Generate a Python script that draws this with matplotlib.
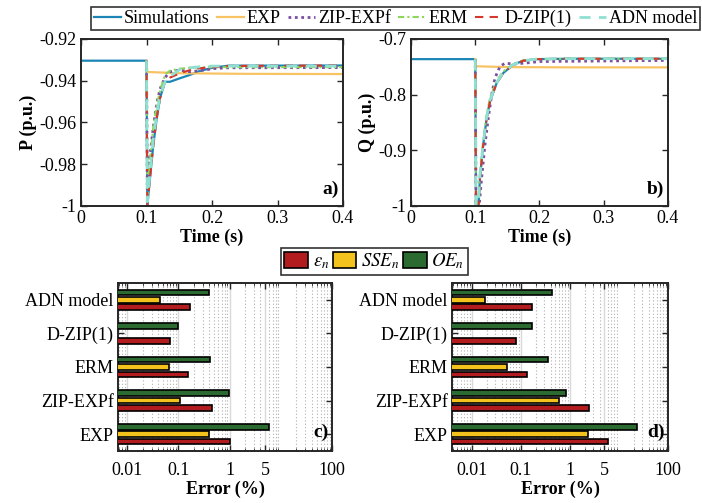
import numpy as np
import matplotlib
matplotlib.use("Agg")
import matplotlib.pyplot as plt
import matplotlib.patches as mpatches
from matplotlib.ticker import LogLocator, NullFormatter

plt.rcParams["font.family"] = ["Liberation Serif", "DejaVu Serif"]
plt.rcParams["mathtext.fontset"] = "stix"
plt.rcParams["font.size"] = 13

# ---------------------------------------------------------------------------
# Time responses; models start at the disturbance
# ---------------------------------------------------------------------------
t_P_sim = [0, 0.1, 0.1012, 0.1053, 0.1104, 0.1156, 0.1206, 0.1282, 0.1359, 0.1511,
           0.1664, 0.1817, 0.202, 0.225, 0.4]
P_sim = [-0.9304, -0.9304, -1.0, -0.9867, -0.9708, -0.958, -0.9484, -0.9405, -0.9405,
         -0.9388, -0.9372, -0.9353, -0.9337, -0.9328, -0.9327]

t_P = [0.1, 0.1012, 0.1053, 0.1104, 0.1156, 0.1206, 0.1282, 0.1359, 0.1511,
       0.1664, 0.1817, 0.202, 0.225, 0.4]
P_zip = [-0.9304, -0.992, -0.976, -0.962, -0.951, -0.944, -0.9385, -0.9357,
         -0.9349, -0.9357, -0.9352, -0.9342, -0.9338, -0.9337]
P_erm = [-0.9304, -0.996, -0.978, -0.962, -0.952, -0.945, -0.937, -0.9352,
         -0.9342, -0.9338, -0.9336, -0.9335, -0.9335, -0.9335]
P_dzip = [-0.9304, -1.0, -0.9867, -0.9708, -0.958, -0.9484, -0.9405, -0.9385,
          -0.9364, -0.9349, -0.934, -0.9335, -0.9329, -0.9327]
P_adn = [-0.9304, -0.998, -0.984, -0.968, -0.956, -0.9475, -0.9405, -0.938,
         -0.9345, -0.9338, -0.9333, -0.933, -0.933, -0.933]
t_P_exp = [0.1, 0.1012, 0.15, 0.25, 0.4]
P_exp = [-0.9304, -0.9358, -0.9364, -0.9367, -0.9368]

t_Q_sim = [0, 0.1, 0.1012, 0.105, 0.1074, 0.1125, 0.1178, 0.123, 0.1334, 0.1437, 0.159,
           0.1748, 0.1956, 0.25, 0.4]
Q_sim = [-0.7362, -0.7362, -1.0, -1.0, -0.949, -0.889, -0.842, -0.812, -0.779, -0.761,
         -0.7464, -0.739, -0.7362, -0.7355, -0.7355]

t_Q = [0.1, 0.1012, 0.105, 0.1074, 0.1125, 0.1178, 0.123, 0.1334, 0.1437, 0.159,
       0.1748, 0.1956, 0.25, 0.4]
Q_erm = [-0.7362, -1.0, -0.985, -0.94, -0.882, -0.836, -0.806, -0.775, -0.758,
         -0.745, -0.7385, -0.736, -0.7355, -0.7355]
Q_dzip = [-0.7362, -1.0, -1.0, -0.949, -0.889, -0.842, -0.812, -0.779, -0.761,
          -0.7464, -0.739, -0.7362, -0.7355, -0.7355]
Q_adn = [-0.7362, -1.0, -0.99, -0.945, -0.886, -0.84, -0.81, -0.778, -0.76,
         -0.746, -0.739, -0.7362, -0.7355, -0.7355]
t_Q_zip = [0.1, 0.1012, 0.106, 0.110, 0.1152, 0.1203, 0.1256, 0.1307, 0.1385,
           0.1463, 0.159, 0.180, 0.2, 0.4]
Q_zip = [-0.7362, -1.0, -1.0, -0.949, -0.889, -0.842, -0.800, -0.770, -0.7494,
         -0.7435, -0.745, -0.743, -0.7405, -0.7385]
t_Q_exp = [0.1, 0.1012, 0.15, 0.25, 0.4]
Q_exp = [-0.7362, -0.749, -0.7505, -0.751, -0.751]

# ---------------------------------------------------------------------------
# Error indices (%)
# ---------------------------------------------------------------------------
models = ["EXP", "ZIP-EXPf", "ERM", "D-ZIP(1)", "ADN model"]
eps_P = [1.0, 0.45, 0.154, 0.067, 0.17]
sse_P = [0.39, 0.108, 0.066, np.nan, 0.043]
oe_P = [6.0, 0.97, 0.42, 0.1, 0.4]
eps_Q = [6.0, 2.4, 0.13, 0.078, 0.17]
sse_Q = [2.37, 0.6, 0.052, np.nan, 0.018]
oe_Q = [23.6, 0.84, 0.35, 0.17, 0.42]

C_SIM = "#1b86b5"
C_EXP = "#f8c463"
C_ZIP = "#7b4ea0"
C_ERM = "#8cd65a"
C_DZIP = "#d4382a"
C_ADN = "#8ee0d0"
C_EPS = "#b31c1f"
C_SSE = "#f3c21c"
C_OE = "#2b6a30"
EDGE = "#262626"

fig = plt.figure(figsize=(7.02, 5.03), dpi=100)


def style_box(ax):
    for s in ax.spines.values():
        s.set_linewidth(1.4)
        s.set_color(EDGE)
    ax.tick_params(direction="in", top=True, right=True, length=4, width=1.0,
                   color=EDGE, labelsize=13, pad=3)


def time_panel(ax, t_sim, sim, t, erm, dzip, adn, t_exp, y_exp, t_zip, y_zip,
               ylim, yticks, yticklabels, ylabel, tag):
    ax.plot(t_sim, sim, color=C_SIM, lw=1.6, label="Simulations")
    ax.plot(t_exp, y_exp, color=C_EXP, lw=1.6, label="EXP")
    ax.plot(t_zip, y_zip, color=C_ZIP, lw=2.0, ls=(0, (1, 1.3)), label="ZIP-EXPf")
    ax.plot(t, erm, color=C_ERM, lw=1.5, ls=(0, (3, 1.5, 1, 1.5)), label="ERM")
    ax.plot(t, dzip, color=C_DZIP, lw=1.5, ls=(0, (4, 3)), label="D-ZIP(1)")
    ax.plot(t, adn, color=C_ADN, lw=2.0, ls=(0, (4, 3)), label="ADN model")
    ax.set_xlim(0, 0.4)
    ax.set_ylim(*ylim)
    ax.set_xticks([0, 0.1, 0.2, 0.3, 0.4])
    ax.set_xticklabels(["0", "0.1", "0.2", "0.3", "0.4"])
    ax.set_yticks(yticks)
    ax.set_yticklabels(yticklabels)
    ax.set_xlabel("Time (s)", fontweight="bold", labelpad=1)
    ax.set_ylabel(ylabel, fontweight="bold", labelpad=2)
    ax.text(0.985, 0.05, tag, transform=ax.transAxes, ha="right", va="bottom",
            fontweight="bold", fontsize=14)
    style_box(ax)


axP = fig.add_axes([0.1154, 0.5905, 0.3732, 0.332])
time_panel(axP, t_P_sim, P_sim, t_P, P_erm, P_dzip, P_adn, t_P_exp, P_exp, t_P, P_zip,
           (-1, -0.92), [-1, -0.98, -0.96, -0.94, -0.92],
           ["-1", "-0.98", "-0.96", "-0.94", "-0.92"], "P (p.u.)", "a)")

axQ = fig.add_axes([0.5855, 0.5905, 0.366, 0.332])
time_panel(axQ, t_Q_sim, Q_sim, t_Q, Q_erm, Q_dzip, Q_adn, t_Q_exp, Q_exp, t_Q_zip, Q_zip,
           (-1, -0.7), [-1, -0.9, -0.8, -0.7],
           ["-1", "-0.9", "-0.8", "-0.7"], "Q (p.u.)", "b)")

h, l = axP.get_legend_handles_labels()
leg = fig.legend(h, l, loc="upper center", bbox_to_anchor=(0.5634, 1.004), ncol=6,
                 handlelength=1.5, handletextpad=0.15, columnspacing=0.42,
                 borderpad=0.15, fancybox=False, edgecolor="black", fontsize=13,
                 frameon=True)
leg.get_frame().set_linewidth(1.2)


def error_panel(ax, eps, sse, oe, xlim, tag):
    y = np.arange(1, len(models) + 1)
    base = 1e-5
    off, hgt = 0.22, 0.17
    ax.barh(y + off, np.array(oe) - base, left=base, height=hgt, color=C_OE,
            edgecolor="black", lw=1.2, zorder=3)
    ax.barh(y, np.array(sse) - base, left=base, height=hgt, color=C_SSE,
            edgecolor="black", lw=1.2, zorder=3)
    ax.barh(y - off, np.array(eps) - base, left=base, height=hgt, color=C_EPS,
            edgecolor="black", lw=1.2, zorder=3)
    ax.set_xscale("log")
    ax.set_xlim(*xlim)
    ax.set_ylim(0.5, 5.5)
    ax.set_yticks(y)
    ax.set_yticklabels(models)
    ax.set_xticks([0.01, 0.1, 1, 5, 100])
    ax.set_xticklabels(["0.01", "0.1", "1", "5", "100"])
    ax.xaxis.set_minor_locator(LogLocator(base=10, subs=np.arange(2, 10), numticks=20))
    ax.xaxis.set_minor_formatter(NullFormatter())
    ax.grid(True, which="major", axis="x", color="#d9d9d9", lw=1.0, ls="-", zorder=0)
    ax.grid(True, which="minor", axis="x", color="#b0b0b0", lw=0.8, ls=(0, (1, 2)),
            zorder=0)
    ax.set_xlabel("Error (%)", fontweight="bold", labelpad=1)
    ax.text(0.985, 0.06, tag, transform=ax.transAxes, ha="right", va="bottom",
            fontweight="bold", fontsize=14, zorder=5)
    style_box(ax)
    ax.tick_params(which="minor", direction="in", top=True, length=2, color=EDGE)
    ax.tick_params(axis="x", pad=8)


axC = fig.add_axes([0.1681, 0.1034, 0.3048, 0.334])
error_panel(axC, eps_P, sse_P, oe_P, (0.0066, 100), "c)")

axD = fig.add_axes([0.6439, 0.1034, 0.3077, 0.334])
error_panel(axD, eps_Q, sse_Q, oe_Q, (0.0039, 100), "d)")

bar_handles = [
    mpatches.Patch(facecolor=C_EPS, edgecolor="black", lw=1.2, label=r"$\varepsilon_n$"),
    mpatches.Patch(facecolor=C_SSE, edgecolor="black", lw=1.2, label=r"$SSE_n$"),
    mpatches.Patch(facecolor=C_OE, edgecolor="black", lw=1.2, label=r"$OE_n$"),
]
leg2 = fig.legend(handles=bar_handles, loc="upper center", bbox_to_anchor=(0.5335, 0.526),
                  ncol=3, handlelength=1.25, handleheight=0.9, handletextpad=0.25,
                  columnspacing=0.2, borderpad=0.2, fancybox=False, edgecolor="black",
                  fontsize=13.5, frameon=True)
leg2.get_frame().set_linewidth(1.2)

fig.savefig("out.png", dpi=100)
